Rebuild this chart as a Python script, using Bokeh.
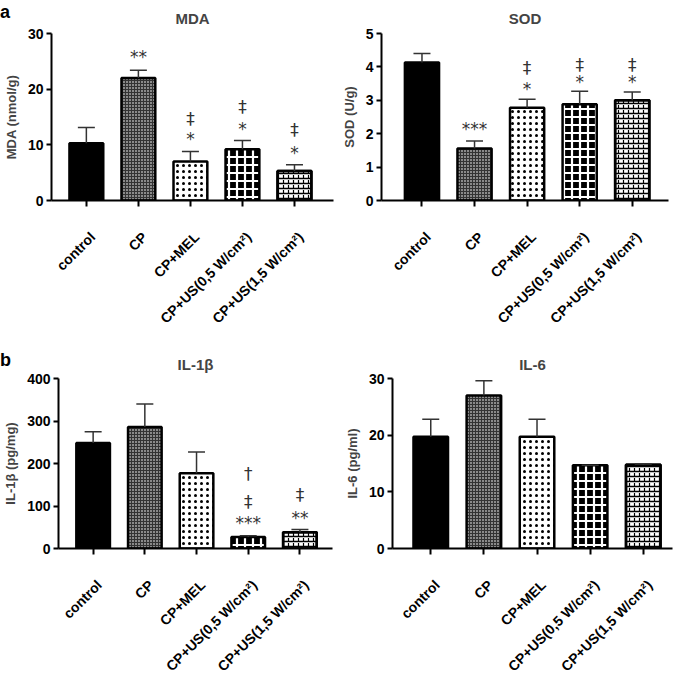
import math
from bokeh.plotting import figure
from bokeh.layouts import column, row
from bokeh.models import Range1d, FixedTicker, Div, LinearAxis
from bokeh.embed import file_html
from bokeh.resources import INLINE
from bokeh.core.properties import value

groups = ["control", "CP", "CP+MEL", "CP+US(0,5 W/cm²)", "CP+US(1,5 W/cm²)"]

mda_mean = [10.3, 22.0, 7.0, 9.2, 5.3]
mda_err = [13.1, 23.4, 8.8, 10.8, 6.4]
mda_ann_x = [1, 2, 2, 3, 3, 4, 4]
mda_ann_y = [25.8, 11.1, 14.7, 12.8, 16.8, 8.6, 12.6]
mda_ann_t = ["**", "*", "‡", "*", "‡", "*", "‡"]

sod_mean = [4.13, 1.56, 2.78, 2.88, 3.0]
sod_err = [4.40, 1.78, 3.03, 3.27, 3.25]
sod_ann_x = [1, 2, 2, 3, 3, 4, 4]
sod_ann_y = [2.14, 3.33, 3.97, 3.56, 4.05, 3.56, 4.05]
sod_ann_t = ["***", "*", "‡", "*", "‡", "*", "‡"]

il1_mean = [248, 286, 177, 27, 38]
il1_err = [275, 340, 227, 30, 45]
il1_ann_x = [3, 3, 3, 4, 4]
il1_ann_y = [59, 110, 176, 71, 127]
il1_ann_t = ["***", "‡", "†", "**", "‡"]

il6_mean = [19.7, 27.0, 19.7, 14.7, 14.8]
il6_err = [22.8, 29.6, 22.8, 14.7, 14.9]
il6_ann_x = []
il6_ann_y = []
il6_ann_t = []

FONT = "Liberation Sans"
fills = ["black", "#8a8a8a", "white", "black", "white"]
hatches = [" ", "cross", "dot", "cross", "horizontal_line"]
hcolors = ["black", "#333333", "black", "white", "black"]
hweights = [1, 1, 6, 2.2, 1.5]
hscales = [1, 3, 6, 8, 5]


def panel(title, ylabel, means, errs, ymax, step, ax, ay, at, fw, fh, left, right, top, bottom, xr,
          tstand):
    xs = list(range(len(groups)))
    p = figure(frame_width=fw, frame_height=fh, x_range=Range1d(*xr), y_range=Range1d(0, ymax),
               output_backend="svg", toolbar_location=None, tools="",
               min_border_left=left, min_border_right=right, min_border_top=top,
               min_border_bottom=bottom)
    p.title.text = title
    p.title.align = "center"
    p.title.offset = -6
    p.title.standoff = tstand
    p.title.text_font = FONT
    p.title.text_font_size = "15px"
    p.title.text_font_style = "bold"
    p.outline_line_color = None
    p.grid.visible = False
    p.background_fill_color = "white"
    p.border_fill_alpha = 0

    p.vbar(x=xs, top=means, width=0.65, bottom=0, fill_color=fills, line_color="black",
           line_width=2.5, hatch_pattern=hatches, hatch_color=hcolors, hatch_weight=hweights,
           hatch_scale=hscales)
    # brick vertical joints
    p.vbar(x=xs[4:], top=means[4:], width=0.65, bottom=0, fill_alpha=0, line_color="black",
           line_width=2.5, hatch_pattern=":", hatch_color="black", hatch_weight=1.2, hatch_scale=5)

    p.segment(x0=xs, y0=means, x1=xs, y1=errs, line_color="#333333", line_width=1.5)
    p.scatter(x=xs, y=errs, marker="dash", size=17, line_color="#333333", line_width=1.5)

    if ax:
        p.text(x=ax, y=ay, text=at, text_align="center", text_baseline="middle",
               text_font=value("DejaVu Sans"), text_font_size="17px", text_color="#333333")

    # tick axis (marks only)
    xa = p.xaxis[0]
    xa.ticker = FixedTicker(ticks=xs)
    xa.major_label_overrides = {i: "" for i in xs}
    xa.major_label_text_font_size = "1px"
    xa.major_label_standoff = 0
    xa.axis_line_width = 2
    xa.major_tick_line_width = 2
    xa.major_tick_out = 6
    xa.major_tick_in = 0
    xa.minor_tick_line_color = None

    # label axis (rotated group names)
    lab_ticks = [round(x + 0.12, 2) for x in xs]
    la = LinearAxis(ticker=FixedTicker(ticks=lab_ticks),
                    major_label_overrides={t: g for t, g in zip(lab_ticks, groups)},
                    axis_line_color=None, major_tick_line_color=None, minor_tick_line_color=None,
                    major_label_orientation=math.pi / 4, major_label_standoff=22,
                    major_label_text_font=FONT, major_label_text_font_style="bold",
                    major_label_text_font_size="14px", major_label_text_color="black")
    p.add_layout(la, "below")

    ya = p.yaxis[0]
    ya.ticker = FixedTicker(ticks=[i * step for i in range(int(round(ymax / step)) + 1)])
    ya.axis_label = ylabel
    ya.axis_label_text_font = FONT
    ya.axis_label_text_font_style = "bold"
    ya.axis_label_text_font_size = "13px"
    ya.axis_label_standoff = 6
    ya.major_label_text_font = FONT
    ya.major_label_text_font_style = "bold"
    ya.major_label_text_font_size = "14px"
    ya.major_label_text_color = "black"
    ya.axis_line_width = 2
    ya.major_tick_line_width = 2
    ya.major_tick_out = 5
    ya.major_tick_in = 0
    ya.minor_tick_line_color = None
    ya.major_label_standoff = 3
    return p


def letter(t):
    return Div(text=t, width=30, height=22, margin=(0, 0, -22, 0),
               styles={"font-family": FONT, "font-weight": "bold", "font-size": "18px",
                       "color": "black", "z-index": "2"})


p1 = panel("MDA", "MDA (nmol/g)", mda_mean, mda_err, 30, 10, mda_ann_x, mda_ann_y, mda_ann_t,
           282, 167, 50, 2, 31, 148, (-0.67, 4.75), 14)
p2 = panel("SOD", "SOD (U/g)", sod_mean, sod_err, 5, 1, sod_ann_x, sod_ann_y, sod_ann_t,
           287, 167, 46, 2, 31, 148, (-0.77, 4.69), 14)
p3 = panel("IL-1β", "IL-1β (pg/mg)", il1_mean, il1_err, 400, 100, il1_ann_x, il1_ann_y, il1_ann_t,
           274, 170, 51, 9, 30, 126, (-0.67, 4.63), 11)
p4 = panel("IL-6", "IL-6 (pg/ml)", il6_mean, il6_err, 30, 10, il6_ann_x, il6_ann_y, il6_ann_t,
           280, 170, 51, 4, 30, 126, (-0.72, 4.55), 11)

layout = column(letter("a"), row(p1, p2), letter("b"), row(p3, p4), spacing=0)

open("out.html", "w").write(file_html(layout, INLINE))
